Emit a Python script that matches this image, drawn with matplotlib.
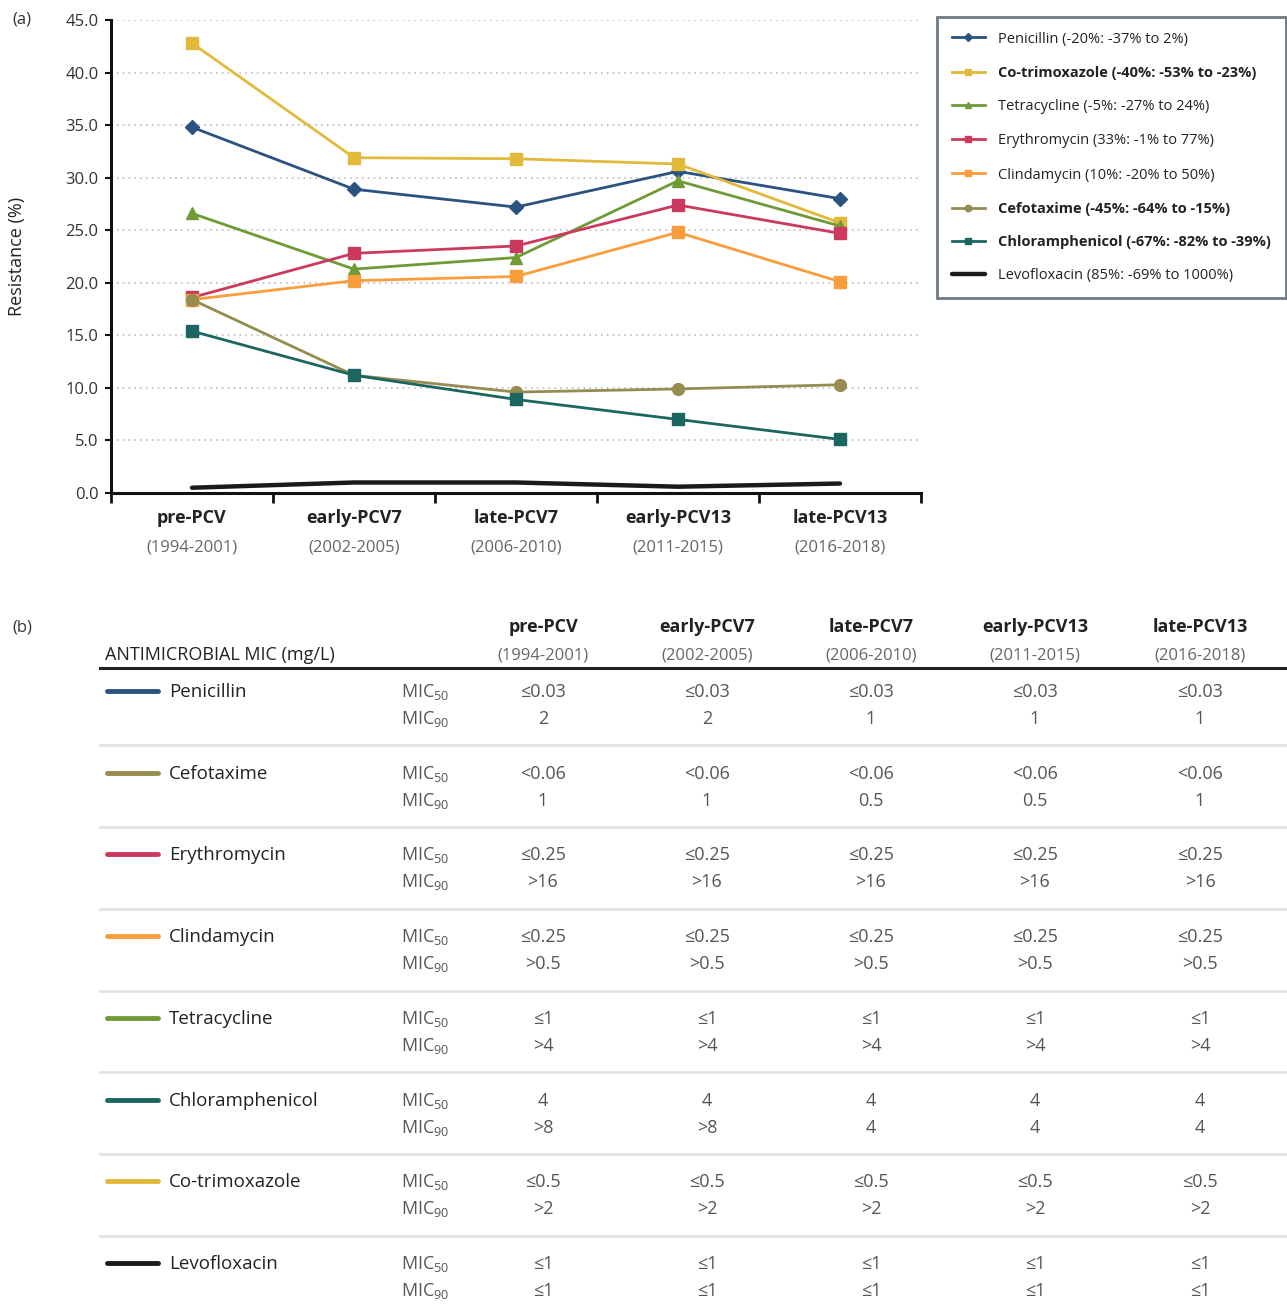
import numpy as np
import matplotlib
matplotlib.use("Agg")
import matplotlib.pyplot as plt

plt.rcParams['font.family'] = ['Open Sans', 'DejaVu Sans']
plt.rcParams['mathtext.fontset'] = 'custom'
plt.rcParams['mathtext.rm'] = 'Open Sans'
plt.rcParams['mathtext.it'] = 'Open Sans:italic'
plt.rcParams['mathtext.bf'] = 'Open Sans:bold'

# periods
periods = ["pre-PCV", "early-PCV7", "late-PCV7", "early-PCV13", "late-PCV13"]
years = ["(1994-2001)", "(2002-2005)", "(2006-2010)", "(2011-2015)", "(2016-2018)"]

# resistance (%) per period
penicillin = [34.8, 28.9, 27.2, 30.6, 28.0]
cotrimoxazole = [42.8, 31.9, 31.8, 31.3, 25.7]
tetracycline = [26.6, 21.3, 22.4, 29.7, 25.4]
erythromycin = [18.6, 22.8, 23.5, 27.4, 24.7]
clindamycin = [18.4, 20.2, 20.6, 24.8, 20.1]
cefotaxime = [18.4, 11.2, 9.6, 9.9, 10.3]
chloramphenicol = [15.4, 11.2, 8.9, 7.0, 5.1]
levofloxacin = [0.5, 1.0, 1.0, 0.6, 0.9]

legend_labels = [
    "Penicillin (-20%: -37% to 2%)",
    "Co-trimoxazole (-40%: -53% to -23%)",
    "Tetracycline (-5%: -27% to 24%)",
    "Erythromycin (33%: -1% to 77%)",
    "Clindamycin (10%: -20% to 50%)",
    "Cefotaxime (-45%: -64% to -15%)",
    "Chloramphenicol (-67%: -82% to -39%)",
    "Levofloxacin (85%: -69% to 1000%)",
]
bold_labels = [False, True, False, False, False, True, True, False]

# MIC table
table_drugs = ["Penicillin", "Cefotaxime", "Erythromycin", "Clindamycin",
               "Tetracycline", "Chloramphenicol", "Co-trimoxazole", "Levofloxacin"]
mic50 = [
    ["≤0.03"] * 5,
    ["<0.06"] * 5,
    ["≤0.25"] * 5,
    ["≤0.25"] * 5,
    ["≤1"] * 5,
    ["4"] * 5,
    ["≤0.5"] * 5,
    ["≤1"] * 5,
]
mic90 = [
    ["2", "2", "1", "1", "1"],
    ["1", "1", "0.5", "0.5", "1"],
    [">16"] * 5,
    [">0.5"] * 5,
    [">4"] * 5,
    [">8", ">8", "4", "4", "4"],
    [">2"] * 5,
    ["≤1"] * 5,
]

colors = {
    "Penicillin": "#2b5381",
    "Co-trimoxazole": "#e2b93b",
    "Tetracycline": "#6f9b37",
    "Erythromycin": "#cb3a5c",
    "Clindamycin": "#fa9d3c",
    "Cefotaxime": "#978c4f",
    "Chloramphenicol": "#1c6662",
    "Levofloxacin": "#1a1a1a",
}

W, H = 1287, 1309
fig = plt.figure(figsize=(W / 100, H / 100), dpi=100)


def fx(x):
    return x / W


def fy(y):
    return 1 - y / H


# ---------- (a) line chart ----------
ax = fig.add_axes([fx(111), fy(493), fx(921) - fx(111), fy(20) - fy(493)])
x = np.arange(len(periods))

series = [
    ("Penicillin", penicillin, "D", 7),
    ("Co-trimoxazole", cotrimoxazole, "s", 8.5),
    ("Tetracycline", tetracycline, "^", 8.5),
    ("Erythromycin", erythromycin, "s", 8.5),
    ("Clindamycin", clindamycin, "s", 8.5),
    ("Cefotaxime", cefotaxime, "o", 8.5),
    ("Chloramphenicol", chloramphenicol, "s", 8.5),
]
handles = []
for name, vals, mk, ms in series:
    h, = ax.plot(x, vals, color=colors[name], lw=2, marker=mk, ms=ms,
                 solid_joinstyle='round', zorder=3)
    handles.append(h)
h, = ax.plot(x, levofloxacin, color=colors["Levofloxacin"], lw=3.2,
             solid_capstyle='round', solid_joinstyle='round', zorder=3)
handles.append(h)

ax.set_xlim(-0.5, 4.5)
ax.set_ylim(0, 45)
ax.set_yticks(np.arange(0, 46, 5))
ax.set_yticklabels([f"{v:.1f}" for v in np.arange(0, 46, 5)], fontsize=12, color="#333333")
ax.yaxis.grid(True, linestyle=(0, (1, 2.5)), color="#bbbbbb", lw=1.2)
ax.set_axisbelow(True)
ax.set_xticks(x)
ax.set_xticklabels([])
ax.set_xticks(np.arange(-0.5, 4.6, 1), minor=True)
ax.tick_params(axis='x', which='major', length=0)
ax.tick_params(axis='x', which='minor', length=7, width=2, color="#111111")
ax.tick_params(axis='y', length=4, width=1.5, color="#111111", pad=5)
for s in ["top", "right"]:
    ax.spines[s].set_visible(False)
for s in ["left", "bottom"]:
    ax.spines[s].set_linewidth(2.2)
    ax.spines[s].set_color("#111111")

trans = ax.get_xaxis_transform()
for i in range(len(periods)):
    ax.text(i, -0.053, periods[i], transform=trans, ha='center', va='center',
            fontsize=13, fontweight='bold', color="#222222")
    ax.text(i, -0.115, years[i], transform=trans, ha='center', va='center',
            fontsize=12, color="#666666")

ax.set_ylabel("Resistance (%)", fontsize=13, color="#222222", labelpad=28)
fig.text(fx(12), fy(20), "(a)", fontsize=12, ha='left', va='center', color="#333333")

leg = fig.legend(handles, legend_labels, loc='upper left',
                 bbox_to_anchor=(fx(937), fy(17)), fontsize=10.5,
                 frameon=True, fancybox=False, markerscale=0.55,
                 handlelength=2.3, handletextpad=0.9, labelspacing=1.32,
                 borderpad=1.0, borderaxespad=0)
leg.get_frame().set_edgecolor("#4a5868")
leg.get_frame().set_linewidth(2)
for t, b in zip(leg.get_texts(), bold_labels):
    t.set_color("#222222")
    if b:
        t.set_fontweight('bold')

# ---------- (b) MIC table ----------
fig.text(fx(12), fy(627), "(b)", fontsize=12, ha='left', va='center', color="#333333")
col_x = [543, 707, 871, 1035, 1200]
for cx, p, yr in zip(col_x, periods, years):
    fig.text(fx(cx), fy(627), p, fontsize=13, fontweight='bold', ha='center',
             va='center', color="#222222")
    fig.text(fx(cx), fy(655), yr, fontsize=12, ha='center', va='center', color="#666666")
fig.text(fx(105), fy(655), "ANTIMICROBIAL MIC (mg/L)", fontsize=13, ha='left',
         va='center', color="#222222")
fig.add_artist(plt.Line2D([fx(100), fx(1287)], [fy(668), fy(668)], color="#222222",
                          lw=2.2, transform=fig.transFigure))

row_pitch = (1264 - 692) / 7
for i, drug in enumerate(table_drugs):
    ry = 692 + i * row_pitch
    fig.add_artist(plt.Line2D([fx(107), fx(158)], [fy(ry - 1), fy(ry - 1)],
                              color=colors[drug], lw=3.5, solid_capstyle='round',
                              transform=fig.transFigure))
    fig.text(fx(169), fy(ry), drug, fontsize=13.5, ha='left', va='center', color="#222222")
    fig.text(fx(401), fy(ry), "MIC$_{50}$", fontsize=13, ha='left', va='center', color="#555555")
    fig.text(fx(401), fy(ry + 27), "MIC$_{90}$", fontsize=13, ha='left', va='center', color="#555555")
    for j, cx in enumerate(col_x):
        fig.text(fx(cx), fy(ry), mic50[i][j], fontsize=13, ha='center', va='center',
                 color="#555555")
        fig.text(fx(cx), fy(ry + 27), mic90[i][j], fontsize=13, ha='center', va='center',
                 color="#555555")
    if i < len(table_drugs) - 1:
        sy = ry + 53.5
        fig.add_artist(plt.Line2D([fx(100), fx(1287)], [fy(sy), fy(sy)], color="#e3e3e3",
                                  lw=2, transform=fig.transFigure))

fig.savefig("out.png", dpi=100)
